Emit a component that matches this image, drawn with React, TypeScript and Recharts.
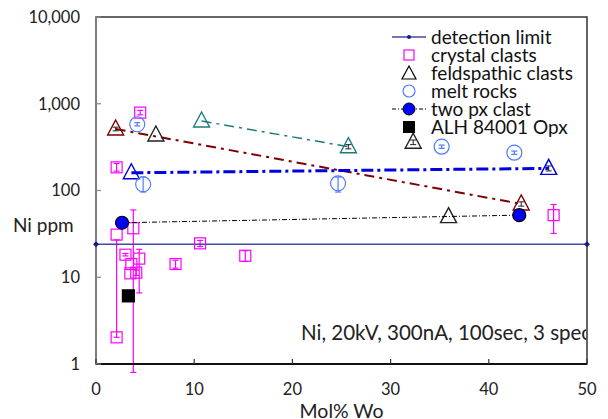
import React from 'react';
import { ScatterChart, Scatter, XAxis, YAxis, ErrorBar, ReferenceArea } from 'recharts';

// values (Mol% Wo vs Ni ppm)
const xTicks = [0, 10, 20, 30, 40, 50];
const yTicks = [1, 10, 100, 1000, 10000];

const detectionLimit = [
  { wo: 0, ni: 24 },
  { wo: 50, ni: 24 },
];

// err = [below, above] in ppm, null when no bar is drawn
const crystalClasts = [
  { wo: 4.5, ni: 790, err: [45, 50] },
  { wo: 2.1, ni: 185, err: [18, 20] },
  { wo: 2.1, ni: 31, err: null },
  { wo: 2.1, ni: 2.03, err: [0, 25] },
  { wo: 3.8, ni: 36.7, err: [35.9, 23] },
  { wo: 3.0, ni: 18.2, err: [0.6, 0.6] },
  { wo: 4.4, ni: 16.4, err: [9.8, 4.6] },
  { wo: 3.6, ni: 14.2, err: null },
  { wo: 3.5, ni: 11.1, err: null },
  { wo: 4.1, ni: 11.3, err: [0.8, 0.8] },
  { wo: 8.1, ni: 14.2, err: [1.5, 1.5] },
  { wo: 10.6, ni: 24.6, err: [2, 2] },
  { wo: 15.2, ni: 17.7, err: [2.5, 2.5] },
  { wo: 46.6, ni: 52, err: [20, 17] },
];

const feldspathicRed = [
  { wo: 2.0, ni: 512, err: [25, 25] },
  { wo: 43.3, ni: 70, err: [4, 4] },
];
const feldspathicTeal = [
  { wo: 10.75, ni: 632, err: null },
  { wo: 25.7, ni: 320, err: [18, 18] },
];
const feldspathicBlue = [
  { wo: 3.6, ni: 160, err: null },
  { wo: 46.1, ni: 180, err: [12, 12] },
];
const feldspathicBlack = [
  { wo: 6.1, ni: 436, err: null },
  { wo: 32.3, ni: 360, err: [22, 22] },
  { wo: 35.9, ni: 50, err: null },
];

const meltRocks = [
  { wo: 4.2, ni: 580, err: [25, 25] },
  { wo: 4.8, ni: 118, err: [22, 25] },
  { wo: 24.65, ni: 121, err: [25, 22] },
  { wo: 35.2, ni: 320, err: [14, 14] },
  { wo: 42.6, ni: 273, err: [12, 12] },
];

const twoPxClast = [
  { wo: 2.65, ni: 42.5 },
  { wo: 43.1, ni: 52 },
];

const alhOpx = [{ wo: 3.3, ni: 6.1 }];

const FONT = 'Lato, "Open Sans", sans-serif';
const MAGENTA = '#FF00FF';
const MELT = '#4F7CFF';
const DARK_RED = '#7F0000';
const TEAL = '#1F7A7A';
const BLUE = '#0000E0';
const DL = '#3F4AA0';

const squareShape = (stroke: string, size: number, fill = 'none') => (p: any) => (
  <rect
    x={p.cx - size / 2}
    y={p.cy - size / 2}
    width={size}
    height={size}
    stroke={stroke}
    strokeWidth={1.2}
    fill={fill}
  />
);

const triangleShape = (stroke: string) => (p: any) => (
  <path
    d={`M${p.cx},${p.cy - 9} L${p.cx + 8},${p.cy + 6} L${p.cx - 8},${p.cy + 6} Z`}
    stroke={stroke}
    strokeWidth={1.4}
    fill="none"
  />
);

const circleShape = (stroke: string, r: number, fill = 'none') => (p: any) => (
  <circle cx={p.cx} cy={p.cy} r={r} stroke={stroke} strokeWidth={1.2} fill={fill} />
);

const diamondShape = (p: any) => (
  <path
    d={`M${p.cx},${p.cy - 3} L${p.cx + 3},${p.cy} L${p.cx},${p.cy + 3} L${p.cx - 3},${p.cy} Z`}
    fill="#1A1A80"
  />
);

const XTick = (props: any) => {
  const { x, y, payload } = props;
  return (
    <g>
      <line x1={x} x2={x} y1={y} y2={y - 5} stroke="#333" strokeWidth={1.2} />
      <text x={x} y={y + 31} textAnchor="middle" fontSize={16.5} fill="#222" fontFamily={FONT}>
        {payload.value}
      </text>
    </g>
  );
};

const YTick = (props: any) => {
  const { x, y, payload } = props;
  return (
    <g>
      <line x1={x} x2={x + 5} y1={y} y2={y} stroke="#888" strokeWidth={1.2} />
      <text x={x - 16} y={y} dy="0.35em" textAnchor="end" fontSize={16.5} fill="#222" fontFamily={FONT}>
        {Number(payload.value).toLocaleString('en-US')}
      </text>
    </g>
  );
};

const legendItems = [
  { name: 'detection limit', icon: 'dl' },
  { name: 'crystal clasts', icon: 'square' },
  { name: 'feldspathic clasts', icon: 'triangle' },
  { name: 'melt rocks', icon: 'circle' },
  { name: 'two px clast', icon: 'twopx' },
  { name: 'ALH 84001 Opx', icon: 'alh' },
];

function LegendIcon({ icon }: { icon: string }) {
  return (
    <svg width={36} height={18} style={{ display: 'block', flex: 'none' }}>
      {icon === 'dl' && (
        <>
          <line x1={1} x2={35} y1={9} y2={9} stroke={DL} strokeWidth={1.5} />
          <circle cx={18} cy={9} r={2} fill="#1A1A80" />
        </>
      )}
      {icon === 'square' && <rect x={13} y={4} width={10} height={10} stroke={MAGENTA} strokeWidth={1.2} fill="none" />}
      {icon === 'triangle' && <path d="M18,2 L25,15 L11,15 Z" stroke="#000" strokeWidth={1.2} fill="none" />}
      {icon === 'circle' && <circle cx={18} cy={9} r={6} stroke={MELT} strokeWidth={1.2} fill="none" />}
      {icon === 'twopx' && (
        <>
          <line x1={1} x2={35} y1={9} y2={9} stroke="#000" strokeWidth={1} strokeDasharray="4 2 1 2" />
          <circle cx={18} cy={9} r={6} stroke="#000" strokeWidth={1} fill="#0000FF" />
        </>
      )}
      {icon === 'alh' && <rect x={12} y={3} width={12} height={12} fill="#000" />}
    </svg>
  );
}

export default function App() {
  return (
    <div style={{ position: 'absolute', left: 0, top: 0, width: 608, height: 419, background: '#fff' }}>
      <ScatterChart width={608} height={419} margin={{ top: 17, right: 21, bottom: 0, left: 0 }}>
        <ReferenceArea x1={0} x2={50} y1={1} y2={10000} stroke="#333" strokeWidth={1.5} fill="none" fillOpacity={0} ifOverflow="visible" />
        <XAxis
          type="number"
          dataKey="wo"
          domain={[0, 50]}
          ticks={xTicks}
          height={55}
          tickSize={0}
          tickMargin={0}
          tickLine={false}
          tick={<XTick />}
          axisLine={{ stroke: '#111', strokeWidth: 2 }}
          label={{ value: 'Mol% Wo', position: 'insideBottom', offset: 1, fontSize: 19.5, fill: '#222', fontFamily: FONT }}
        />
        <YAxis
          type="number"
          dataKey="ni"
          scale="log"
          domain={[1, 10000]}
          ticks={yTicks}
          allowDataOverflow
          width={96}
          tickSize={0}
          tickMargin={0}
          tickLine={false}
          tick={<YTick />}
          axisLine={{ stroke: '#868686', strokeWidth: 1.5 }}
          label={{
            value: 'Ni ppm',
            content: () => (
              <text x={13} y={232} fontSize={19} fill="#222" fontFamily={FONT}>
                Ni ppm
              </text>
            ),
          }}
        />

        <Scatter
          data={detectionLimit}
          line={{ stroke: DL, strokeWidth: 1.5 }}
          lineType="joint"
          shape={diamondShape}
          isAnimationActive={false}
        />

        <Scatter data={crystalClasts} shape={squareShape(MAGENTA, 11)} isAnimationActive={false}>
          <ErrorBar dataKey="err" direction="y" width={3} stroke={MAGENTA} strokeWidth={1.2} />
        </Scatter>

        <Scatter
          data={feldspathicRed}
          line={{ stroke: DARK_RED, strokeWidth: 2, strokeDasharray: '10 5 3 5' }}
          lineType="joint"
          shape={triangleShape(DARK_RED)}
          isAnimationActive={false}
        >
          <ErrorBar dataKey="err" direction="y" width={3} stroke="#222" strokeWidth={1} />
        </Scatter>
        <Scatter
          data={feldspathicTeal}
          line={{ stroke: TEAL, strokeWidth: 1.5, strokeDasharray: '10 5 3 5' }}
          lineType="joint"
          shape={triangleShape(TEAL)}
          isAnimationActive={false}
        >
          <ErrorBar dataKey="err" direction="y" width={3} stroke="#222" strokeWidth={1} />
        </Scatter>
        <Scatter
          data={feldspathicBlue}
          line={{ stroke: BLUE, strokeWidth: 3, strokeDasharray: '12 4 3 4' }}
          lineType="joint"
          shape={triangleShape(BLUE)}
          isAnimationActive={false}
        >
          <ErrorBar dataKey="err" direction="y" width={3} stroke="#222" strokeWidth={1} />
        </Scatter>
        <Scatter data={feldspathicBlack} shape={triangleShape('#222')} isAnimationActive={false}>
          <ErrorBar dataKey="err" direction="y" width={3} stroke="#222" strokeWidth={1} />
        </Scatter>

        <Scatter data={meltRocks} shape={circleShape(MELT, 7.5)} isAnimationActive={false}>
          <ErrorBar dataKey="err" direction="y" width={3} stroke={MELT} strokeWidth={1.2} />
        </Scatter>

        <Scatter
          data={twoPxClast}
          line={{ stroke: '#000', strokeWidth: 1, strokeDasharray: '5 2 1 2' }}
          lineType="joint"
          shape={circleShape('#000', 6.5, '#0000FF')}
          isAnimationActive={false}
        />

        <Scatter data={alhOpx} shape={squareShape('#000', 12, '#000')} isAnimationActive={false} />
      </ScatterChart>

      <div
        style={{
          position: 'absolute',
          left: 391,
          top: 28,
          fontFamily: FONT,
          fontSize: 19,
          color: '#111',
          lineHeight: '18px',
        }}
      >
        {legendItems.map((item) => (
          <div key={item.name} style={{ display: 'flex', alignItems: 'center', height: 18 }}>
            <LegendIcon icon={item.icon} />
            <span style={{ marginLeft: 4, whiteSpace: 'nowrap' }}>{item.name}</span>
          </div>
        ))}
      </div>

      <div
        style={{
          position: 'absolute',
          left: 301,
          top: 320,
          width: 285,
          overflow: 'hidden',
          whiteSpace: 'nowrap',
          fontFamily: FONT,
          fontSize: 20.5,
          lineHeight: '24px',
          color: '#222',
        }}
      >
        Ni, 20kV, 300nA, 100sec, 3 spec
      </div>
    </div>
  );
}
